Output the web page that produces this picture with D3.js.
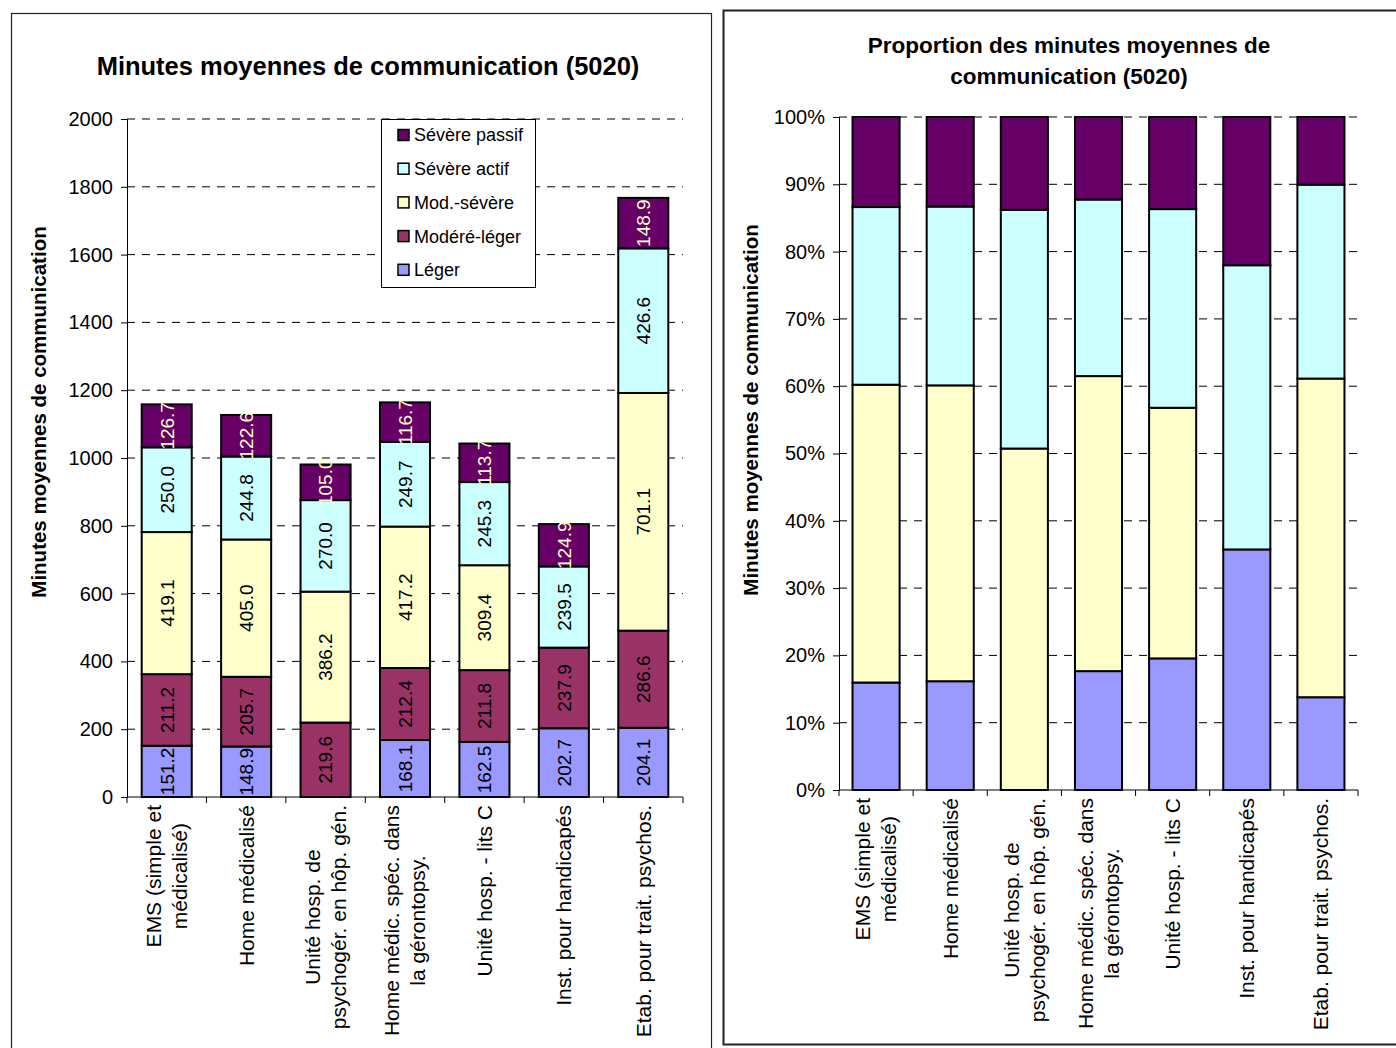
<!DOCTYPE html>
<html>
<head>
<meta charset="utf-8">
<script src="https://d3js.org/d3.v7.min.js"></script>
<style>
  body { margin: 0; background: #fff; }
  svg { display: block; font-family: "Liberation Sans", Arial, sans-serif; }
</style>
</head>
<body>
<svg id="chart" width="1396" height="1048"></svg>
<script>
// categories, "|" marks the line break of the axis label
var categories = ["EMS (simple et|médicalisé)", "Home médicalisé", "Unité hosp. de|psychogér. en hôp. gén.",
                  "Home médic. spéc. dans|la gérontopsy.", "Unité hosp. - lits C", "Inst. pour handicapés",
                  "Etab. pour trait. psychos."];
var seriesNames = ["Léger", "Modéré-léger", "Mod.-sévère", "Sévère actif", "Sévère passif"];
var leger        = [151.2, 148.9, 0,     168.1, 162.5, 202.7, 204.1];
var modereLeger  = [211.2, 205.7, 219.6, 212.4, 211.8, 237.9, 286.6];
var modSevere    = [419.1, 405.0, 386.2, 417.2, 309.4, 0,     701.1];
var severeActif  = [250.0, 244.8, 270.0, 249.7, 245.3, 239.5, 426.6];
var severePassif = [126.7, 122.6, 105.0, 116.7, 113.7, 124.9, 148.9];
var seriesColors = ["#9999FF", "#993366", "#FFFFCC", "#CCFFFF", "#660066"];
var leftTicks = [0, 200, 400, 600, 800, 1000, 1200, 1400, 1600, 1800, 2000];
var rightTicks = [0, 0.1, 0.2, 0.3, 0.4, 0.5, 0.6, 0.7, 0.8, 0.9, 1];

var rows = categories.map(function(c, i) {
    return {cat: c, "Léger": leger[i], "Modéré-léger": modereLeger[i], "Mod.-sévère": modSevere[i],
            "Sévère actif": severeActif[i], "Sévère passif": severePassif[i]};
});
var color = d3.scaleOrdinal().domain(seriesNames).range(seriesColors);

var svg = d3.select("#chart");

// panel frames
svg.append("rect").attr("x", 11.5).attr("y", 13.5).attr("width", 700).attr("height", 1060)
    .attr("fill", "#fff").attr("stroke", "#222").attr("stroke-width", 1.2);
svg.append("rect").attr("x", 723.5).attr("y", 10.5).attr("width", 700).attr("height", 1034)
    .attr("fill", "#fff").attr("stroke", "#222").attr("stroke-width", 2);

function drawPanel(o) {
    var g = svg.append("g");
    var x = d3.scaleBand().domain(categories).range([o.left, o.right])
              .paddingInner(o.pad).paddingOuter(o.pad / 2);
    var y = d3.scaleLinear().domain(o.domain).range([o.bottom, o.top]);

    // dashed grid
    g.selectAll(".grid").data(o.ticks.slice(1)).enter().append("line")
        .attr("x1", o.left).attr("x2", o.right)
        .attr("y1", function(d){ return y(d); }).attr("y2", function(d){ return y(d); })
        .attr("stroke", "#000").attr("stroke-width", 1).attr("stroke-dasharray", "8,7");

    // bars
    var layer = g.selectAll(".layer").data(o.stacked).enter().append("g")
        .attr("fill", function(d){ return color(d.key); });
    layer.selectAll("rect").data(function(d){ return d.filter(function(p){ return p[1] - p[0] > 0; }); })
        .enter().append("rect")
        .attr("x", function(d){ return x(d.data.cat); })
        .attr("y", function(d){ return y(d[1]); })
        .attr("width", x.bandwidth())
        .attr("height", function(d){ return y(d[0]) - y(d[1]); })
        .attr("stroke", "#000").attr("stroke-width", 2);

    // value labels
    if (o.labels) {
        o.stacked.forEach(function(s) {
            s.forEach(function(p) {
                var v = p.data[s.key];
                if (!v) return;
                var cx = x(p.data.cat) + x.bandwidth() / 2, cy = y((p[0] + p[1]) / 2);
                g.append("text")
                    .attr("transform", "translate(" + cx + "," + cy + ") rotate(-90)")
                    .attr("text-anchor", "middle").attr("dy", "0.36em")
                    .style("font-size", "19px")
                    .attr("fill", s.key == "Sévère passif" ? "#FFFFCC" : "#000")
                    .text(v.toFixed(1));
            });
        });
    }

    // y axis
    var ya = g.append("g").attr("transform", "translate(" + o.left + ",0)")
        .call(d3.axisLeft(y).tickValues(o.ticks).tickFormat(o.fmt).tickSizeOuter(0).tickSize(6).tickPadding(8));
    ya.selectAll("text").style("font-size", "20px").attr("fill", "#000");
    ya.selectAll("line, path").attr("stroke", "#000");

    // x axis line and ticks between categories
    var xa = g.append("g").attr("transform", "translate(0," + o.bottom + ")");
    xa.append("line").attr("x1", o.left).attr("x2", o.right).attr("stroke", "#000");
    xa.selectAll(".tk").data(d3.range(categories.length + 1)).enter().append("line")
        .attr("x1", function(i){ return o.left + i * x.step(); })
        .attr("x2", function(i){ return o.left + i * x.step(); })
        .attr("y1", 0).attr("y2", 6).attr("stroke", "#000");

    // rotated category labels
    categories.forEach(function(c) {
        var lines = c.split("|");
        var lg = g.append("g")
            .attr("transform", "translate(" + (x(c) + x.bandwidth() / 2) + "," + (o.bottom + 8) + ") rotate(-90)");
        var t = lg.selectAll("text").data(lines).enter().append("text")
            .attr("text-anchor", "middle").attr("dy", "0.35em")
            .attr("y", function(d, i){ return (i - (lines.length - 1) / 2) * 26; })
            .style("font-size", "21px").text(function(d){ return d; });
        var maxLen = d3.max(t.nodes(), function(n){ return n.getComputedTextLength(); });
        t.attr("x", -maxLen / 2);
    });

    // titles
    g.append("text").attr("transform", "translate(" + o.yLabelX + "," + o.yLabelY + ") rotate(-90)")
        .attr("text-anchor", "middle").style("font-size", "20.5px").style("font-weight", "bold")
        .text("Minutes moyennes de communication");
    g.selectAll(".title").data(o.title).enter().append("text")
        .attr("x", o.titleX).attr("y", function(d, i){ return o.titleY + i * 31; })
        .attr("text-anchor", "middle").style("font-size", o.titleSize).style("font-weight", "bold")
        .text(function(d){ return d; });
    return g;
}

var leftStack = d3.stack().keys(seriesNames)(rows);
drawPanel({left: 127, right: 683, top: 119, bottom: 797, pad: 0.37, domain: [0, 2000],
           ticks: leftTicks, fmt: d3.format("d"), stacked: leftStack, labels: true,
           yLabelX: 46, yLabelY: 412, title: ["Minutes moyennes de communication (5020)"],
           titleX: 368, titleY: 75, titleSize: "25.5px"});

// legend
var legendKeys = seriesNames.slice().reverse();
var lg = svg.append("g");
lg.append("rect").attr("x", 381.5).attr("y", 119.5).attr("width", 154).attr("height", 168)
    .attr("fill", "#fff").attr("stroke", "#000");
var item = lg.selectAll(".item").data(legendKeys).enter().append("g")
    .attr("transform", function(d, i){ return "translate(398," + (135 + i * 33.7) + ")"; });
item.append("rect").attr("x", 0).attr("y", -5.5).attr("width", 11).attr("height", 11)
    .attr("fill", function(d){ return color(d); }).attr("stroke", "#000").attr("stroke-width", 1.5);
item.append("text").attr("x", 16).attr("dy", "0.36em").style("font-size", "18px")
    .text(function(d){ return d; });

// right panel: proportions (Modéré-léger not included)
var rightKeys = ["Léger", "Mod.-sévère", "Sévère actif", "Sévère passif"];
var rightStack = d3.stack().keys(rightKeys).offset(d3.stackOffsetExpand)(rows);
drawPanel({left: 839, right: 1358, top: 117, bottom: 790, pad: 0.365, domain: [0, 1],
           ticks: rightTicks, fmt: d3.format(".0%"), stacked: rightStack, labels: false,
           yLabelX: 758, yLabelY: 410, title: ["Proportion des minutes moyennes de", "communication (5020)"],
           titleX: 1069, titleY: 53, titleSize: "22.5px"});
</script>
</body>
</html>
